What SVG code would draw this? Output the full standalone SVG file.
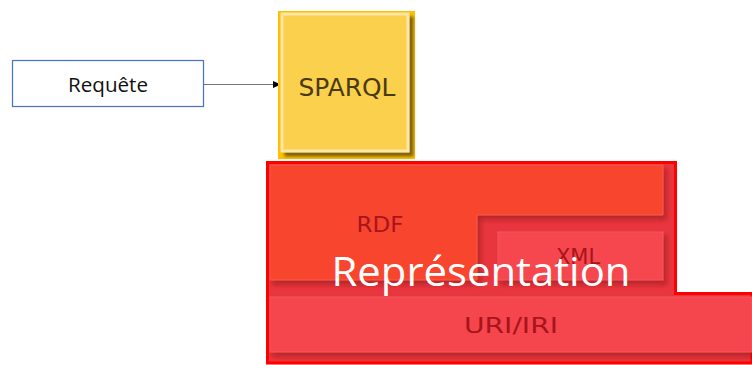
<svg xmlns="http://www.w3.org/2000/svg" width="752" height="365" viewBox="0 0 752 365">
<style>
.lbl{font-family:"DejaVu Sans","Liberation Sans",sans-serif;fill:#A8141C;text-anchor:middle}
</style>
<defs>
<filter id="sh" x="-10%" y="-20%" width="130%" height="150%">
<feDropShadow dx="3" dy="4" stdDeviation="2.5" flood-color="#8a0a10" flood-opacity="0.55"/>
</filter>
<filter id="shy" x="-10%" y="-10%" width="130%" height="130%">
<feDropShadow dx="4" dy="4" stdDeviation="1.5" flood-color="#4a3a10" flood-opacity="0.7"/>
</filter>
<marker id="ah" markerWidth="8" markerHeight="8" refX="7" refY="4" orient="auto" markerUnits="userSpaceOnUse">
<path d="M0,0.5 L8,4 L0,7.5 Z" fill="#000"/>
</marker>
</defs>
<rect width="752" height="365" fill="#fff"/>
<g id="requete">
<rect x="12.5" y="60.5" width="191" height="46" fill="#fff" stroke="#4472C4" stroke-width="1.2"/>
<text x="108" y="92" font-family="Open Sans,Noto Sans,sans-serif" font-size="20" fill="#111" text-anchor="middle" textLength="80" lengthAdjust="spacingAndGlyphs">Requête</text>
</g>
<g id="connectors">
<line x1="204" y1="84.5" x2="280" y2="84.5" stroke="#777" stroke-width="1.2" marker-end="url(#ah)"/>
</g>
<g id="sparql">
<rect x="279.5" y="12.5" width="134" height="145" fill="#FFC000" stroke="#FFC000" stroke-width="3"/>
<rect x="282" y="14" width="126" height="137" fill="#FAD04D" stroke="#FCE6A8" stroke-width="3" filter="url(#shy)"/>
<text x="347" y="96" font-family="DejaVu Sans,Liberation Sans,sans-serif" font-size="25" fill="#4a3a12" text-anchor="middle" textLength="97" lengthAdjust="spacingAndGlyphs">SPARQL</text>
</g>
<g id="representation">
<path d="M267.5,162.5 H675.5 V293.5 H752 V363 H267.5 Z" fill="#E8363E" stroke="#FF0000" stroke-width="3"/>
</g>
<g id="rdf">
<path d="M270,165 H663 V215 H477 V280 H270 Z" fill="#F8452D" stroke="#FA5A4A" stroke-width="1" filter="url(#sh)"/>
<text class="lbl" x="380" y="232" font-size="21" textLength="47" lengthAdjust="spacingAndGlyphs">RDF</text>
</g>
<g id="xml">
<rect x="498" y="232" width="165" height="48" fill="#F5474E" stroke="#F8575D" stroke-width="1" filter="url(#sh)"/>
<text class="lbl" x="578" y="264" font-size="21">XML</text>
</g>
<g id="uri">
<rect x="270" y="297" width="482" height="55" fill="#F5454E" stroke="#F8575D" stroke-width="1" filter="url(#sh)"/>
<text class="lbl" x="511" y="333" font-size="22" textLength="94" lengthAdjust="spacingAndGlyphs">URI/IRI</text>
</g>
<g id="title">
<text x="481" y="286" font-family="Open Sans,Noto Sans,sans-serif" font-size="41" fill="#fff" text-anchor="middle" textLength="299" lengthAdjust="spacingAndGlyphs">Représentation</text>
</g>
</svg>
